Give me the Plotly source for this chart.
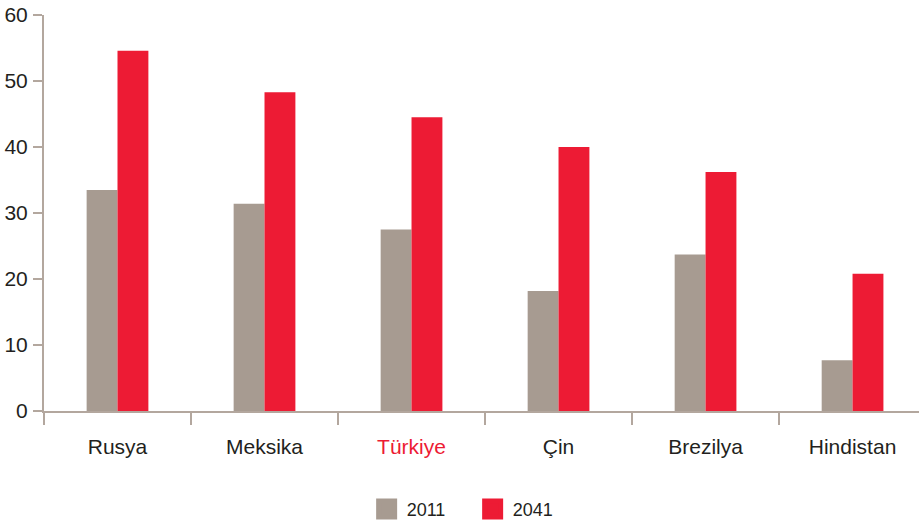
import plotly.graph_objects as go

categories = ["Rusya", "Meksika", "Türkiye", "Çin", "Brezilya", "Hindistan"]
values_2011 = [33.5, 31.4, 27.5, 18.2, 23.7, 7.7]
values_2041 = [54.6, 48.3, 44.5, 40.0, 36.2, 20.8]
series_names = ["2011", "2041"]
y_ticks = [0, 10, 20, 30, 40, 50, 60]

GRAY = "#A79B91"
RED = "#ED1B34"
AXIS = "#B3A79E"
TEXT = "#231F20"
FONT = "Liberation Sans, Arial, sans-serif"

tick_text = [f'<span style="color:{RED}">{c}</span>' if c == "Türkiye" else c for c in categories]

fig = go.Figure()
for name, vals, col in [(series_names[0], values_2011, GRAY), (series_names[1], values_2041, RED)]:
    fig.add_trace(go.Bar(x=categories, y=vals, name=name, marker=dict(color=col, line=dict(width=0)),
                         showlegend=False))
    fig.add_trace(go.Scatter(x=[None], y=[None], mode="markers", name=name,
                             marker=dict(symbol="square", size=16, color=col, line=dict(color=col, width=5))))

fig.update_layout(
    width=919, height=525,
    margin=dict(l=44, r=0, t=15, b=114, autoexpand=False),
    paper_bgcolor="white", plot_bgcolor="white",
    barmode="group", bargap=0.58, bargroupgap=0,
    font=dict(family=FONT, size=21, color=TEXT),
    showlegend=True,
    legend=dict(orientation="h", x=0.5143, xanchor="center", xref="container",
                y=0.03, yanchor="middle", yref="container",
                font=dict(size=18, color=TEXT), itemwidth=30, traceorder="normal",
                entrywidth=61, entrywidthmode="pixels"),
    xaxis=dict(type="category", range=[-0.5, 5.452], showline=True, linecolor=AXIS, linewidth=2,
               ticks="outside", tickson="boundaries", ticklen=12, tickcolor=AXIS, tickwidth=2,
               tickvals=categories, ticktext=tick_text, ticklabelstandoff=16, automargin=False,
               showgrid=False, zeroline=False, fixedrange=True),
    yaxis=dict(range=[0, 60], tickvals=y_ticks, showline=True, linecolor=AXIS, linewidth=2,
               ticks="outside", ticklen=9, tickcolor=AXIS, tickwidth=2, automargin=False,
               showgrid=False, zeroline=False, ticklabelstandoff=1, fixedrange=True),
)

# remove the page's default 8px body margin so the figure fills the window exactly
fig.write_html("out.html", config={"displayModeBar": False, "staticPlot": True},
               post_script="document.body.style.margin='0';document.body.style.overflow='hidden';")
